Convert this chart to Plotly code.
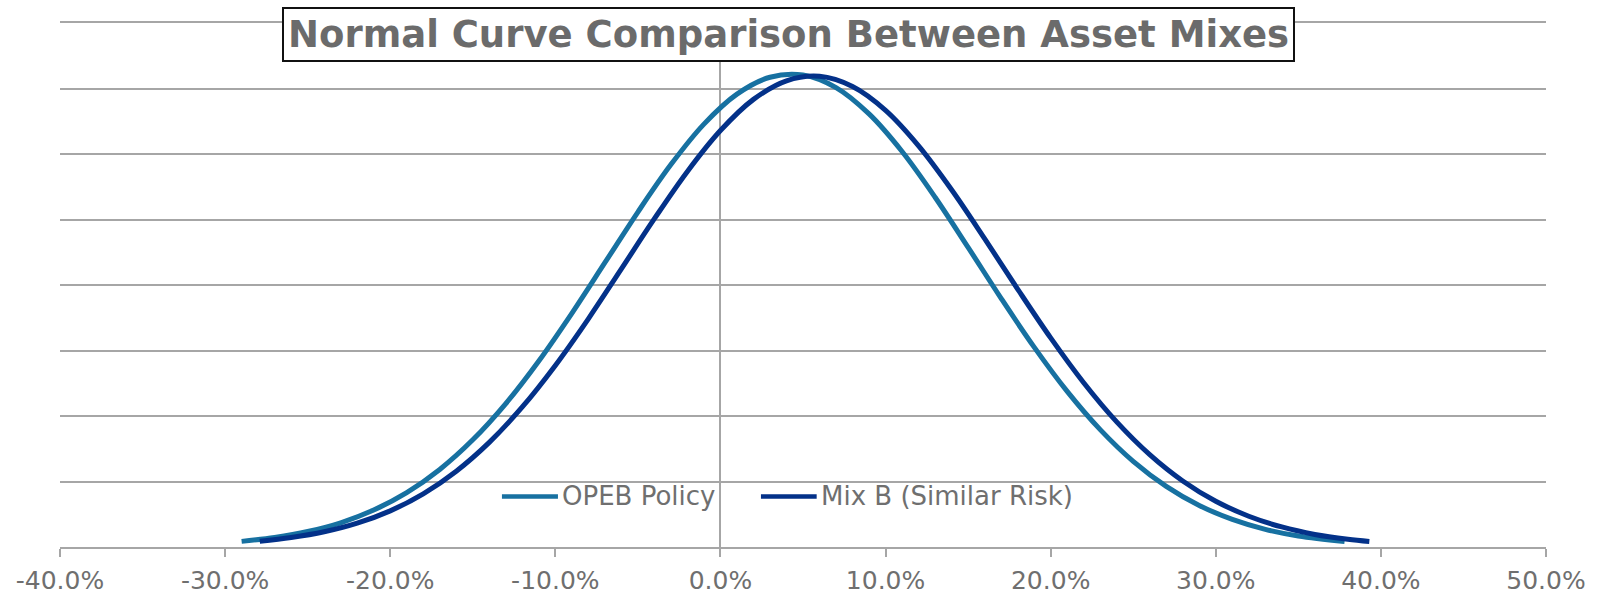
import numpy as np
import plotly.graph_objects as go

# Return (decimal) and density values along each distribution curve
opeb_x = [-0.290, -0.27, -0.25, -0.23, -0.21, -0.19, -0.17, -0.15, -0.13, -0.11,
          -0.09, -0.07, -0.05, -0.03, -0.01, 0.01, 0.03, 0.05, 0.07, 0.09,
          0.11, 0.13, 0.15, 0.17, 0.19, 0.21, 0.23, 0.25, 0.27, 0.29,
          0.31, 0.33, 0.35, 0.378]
opeb_y = [0.043, 0.073, 0.118, 0.185, 0.282, 0.415, 0.592, 0.818, 1.095, 1.420,
          1.784, 2.170, 2.557, 2.919, 3.228, 3.457, 3.586, 3.603, 3.507, 3.306,
          3.019, 2.670, 2.287, 1.898, 1.526, 1.188, 0.896, 0.654, 0.463, 0.317,
          0.211, 0.135, 0.084, 0.041]

mixb_x = [-0.279, -0.26, -0.24, -0.22, -0.20, -0.18, -0.16, -0.14, -0.12, -0.10,
          -0.08, -0.06, -0.04, -0.02, 0.00, 0.02, 0.04, 0.06, 0.08, 0.10,
          0.12, 0.14, 0.16, 0.18, 0.20, 0.22, 0.24, 0.26, 0.28, 0.30,
          0.32, 0.34, 0.36, 0.38, 0.393]
mixb_y = [0.044, 0.072, 0.116, 0.182, 0.276, 0.406, 0.579, 0.799, 1.069, 1.386,
          1.742, 2.123, 2.506, 2.867, 3.179, 3.417, 3.559, 3.593, 3.515, 3.333,
          3.062, 2.727, 2.354, 1.969, 1.596, 1.254, 0.955, 0.705, 0.504, 0.349,
          0.235, 0.153, 0.096, 0.059, 0.042]

series_names = ["OPEB Policy", "Mix B (Similar Risk)"]
series_colors = ["#1771a1", "#033189"]

x_tickvals = [-0.4, -0.3, -0.2, -0.1, 0.0, 0.1, 0.2, 0.3, 0.4, 0.5]
x_ticktext = ["-40.0%", "-30.0%", "-20.0%", "-10.0%", "0.0%",
              "10.0%", "20.0%", "30.0%", "40.0%", "50.0%"]

title_text = "Normal Curve Comparison Between Asset Mixes"

FONT = "DejaVu Sans"
TEXT_GRAY = "#6f6f6f"
GRID_GRAY = "#a6a6a6"

fig = go.Figure()
for xs, ys, name, color in zip([opeb_x, mixb_x], [opeb_y, mixb_y],
                               series_names, series_colors):
    fig.add_trace(go.Scatter(
        x=xs, y=ys, name=name, mode="lines",
        line=dict(color=color, width=5, shape="spline", smoothing=1.0),
        showlegend=False, hoverinfo="x+y+name",
    ))

# Legend row drawn inside the plot, near the bottom
legend_items = [
    (series_names[0], series_colors[0], 0.2974, 0.3351, 0.3368),
    (series_names[1], series_colors[1], 0.4717, 0.5092, 0.5108),
]
legend_y = 0.0965
for name, color, lx0, lx1, tx in legend_items:
    fig.add_shape(type="line", xref="paper", yref="paper",
                  x0=lx0, x1=lx1, y0=legend_y, y1=legend_y,
                  line=dict(color=color, width=4.5))
    fig.add_annotation(xref="paper", yref="paper", x=tx, y=legend_y,
                       xanchor="left", yanchor="middle", showarrow=False,
                       text=name, font=dict(family=FONT, size=26, color=TEXT_GRAY))

# Boxed chart title
fig.add_annotation(
    xref="paper", yref="paper", x=0.490, y=0.9786,
    xanchor="center", yanchor="middle", showarrow=False,
    text="<b>" + title_text + "</b>",
    font=dict(family=FONT, size=37, color="#6b6b6b"),
    bgcolor="white", bordercolor="#111111", borderwidth=2, borderpad=4,
)

fig.update_layout(
    width=1618, height=595,
    margin=dict(l=60, r=72, t=23, b=48),
    paper_bgcolor="white", plot_bgcolor="white",
    font=dict(family=FONT, color=TEXT_GRAY),
    xaxis=dict(
        range=[-0.4, 0.5], tickvals=x_tickvals, ticktext=x_ticktext,
        showgrid=False, zeroline=True, zerolinecolor=GRID_GRAY, zerolinewidth=1.5,
        showline=True, mirror=True, linecolor=GRID_GRAY, linewidth=1.5,
        ticks="outside", ticklen=8, tickwidth=1.5, tickcolor=GRID_GRAY,
        ticklabelstandoff=2,
        tickfont=dict(family=FONT, size=25, color=TEXT_GRAY),
        automargin=False,
    ),
    yaxis=dict(
        range=[0, 4], dtick=0.5, showticklabels=False,
        showgrid=True, gridcolor=GRID_GRAY, gridwidth=1.5,
        zeroline=False, showline=False, automargin=False,
    ),
)

fig.write_html("out.html")
